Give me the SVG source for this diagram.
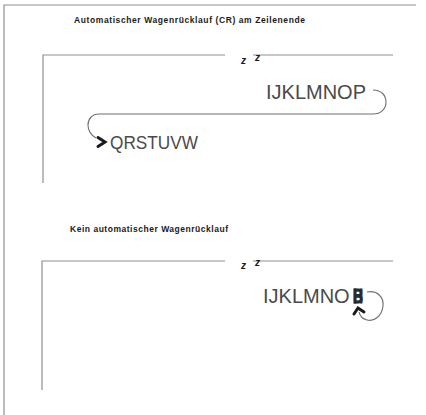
<svg xmlns="http://www.w3.org/2000/svg" width="426" height="415" viewBox="0 0 426 415">
<style>
.frame{stroke:#8f8f8f;stroke-width:1.2;fill:none}
.title{font-family:"Liberation Sans",Arial,sans-serif;font-size:8.5px;font-weight:bold;fill:#1a1a1a}
.big{font-family:"Liberation Sans",Arial,sans-serif;font-size:20px;fill:#4a4a4a}
.z{font-family:"Liberation Sans",Arial,sans-serif;font-size:10px;font-weight:bold;font-style:italic;fill:#1a1a1a}
.curve{stroke:#6f6f6f;stroke-width:1.1;fill:none}
.head{stroke:#1a1a1a;stroke-width:3;fill:none;stroke-linecap:round;stroke-linejoin:miter}
.over{font-family:"Liberation Sans",Arial,sans-serif;font-size:20px;font-weight:bold;fill:#2a2a2a;stroke:#2a2a2a;stroke-width:0.8}
</style>
<rect width="426" height="415" fill="#ffffff"/>
<g id="page">
<path class="frame" d="M4 415 V5 H416"/>
</g>
<g id="example1">
<text class="title" x="74" y="23" textLength="231" lengthAdjust="spacing">Automatischer Wagenrücklauf (CR) am Zeilenende</text>
<path class="frame" d="M43 183 V55 H225 M253 55 H393"/>
<text class="z" x="241" y="64">z</text>
<text class="z" x="255" y="61">z</text>
<text class="big" x="266" y="99">IJKLMNOP</text>
<text class="big" x="110" y="149" style="font-size:17.5px" textLength="88" lengthAdjust="spacingAndGlyphs">QRSTUVW</text>
</g>
<g id="example2">
<text class="title" x="70" y="232" textLength="158" lengthAdjust="spacing">Kein automatischer Wagenrücklauf</text>
<path class="frame" d="M42 390 V261 H225 M253 261 H393"/>
<text class="z" x="241" y="269">z</text>
<text class="z" x="255" y="266">z</text>
<text class="big" x="263" y="303">IJKLMNO</text>
<text class="over" x="353" y="303" textLength="10" lengthAdjust="spacingAndGlyphs">B</text>
<text class="over" x="353" y="303" textLength="10" lengthAdjust="spacingAndGlyphs">H</text>
</g>
<g id="connectors">
<path class="curve" d="M373 90 C382 90 386 96 386 102 C386 109 381 114 373 114 L99 114 C92 114 88 119 88 125 C88 131 91 135 96 138"/>
<path class="head" d="M98 137.5 L105 142 L98 146.5"/>
<path class="curve" d="M367 292 C378 290 384 298 383 306 C382 316 374 322 367 320 C363 319 360 316 359 312"/>
<path class="head" d="M354 314 L358 308 L364 312"/>
</g>
</svg>
